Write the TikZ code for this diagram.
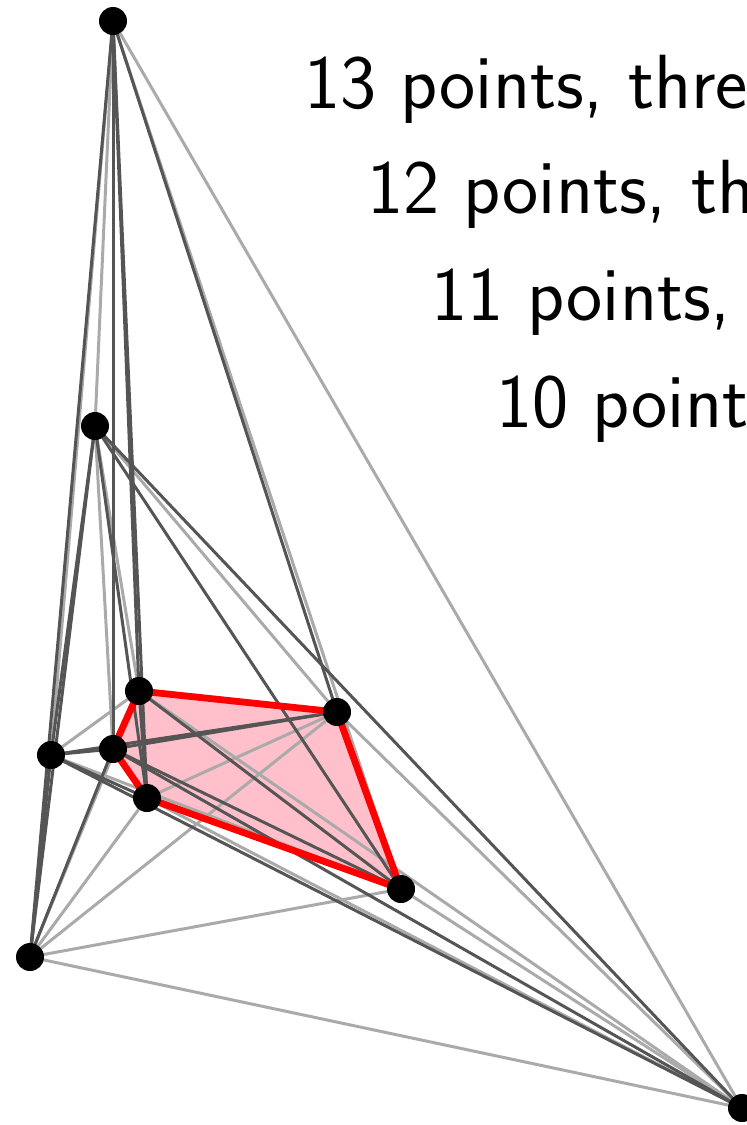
\documentclass[tikz,border=0pt]{standalone}
\begin{document}
\begin{tikzpicture}[x=0.5pt,y=-0.5pt,
  dot/.style={circle,fill=black,inner sep=0pt,minimum size=14pt},
  lightedge/.style={draw=lightgr,line width=1.5pt},
  darkedge/.style={draw=darkgr,line width=1.5pt},
  hulledge/.style={draw=red,line width=3.4pt,line join=round},
  caption/.style={anchor=base west,inner sep=0pt,font=\fontsize{38.4}{46}\selectfont\sffamily}]
\definecolor{lightgr}{RGB}{170,170,170}
\definecolor{darkgr}{RGB}{85,85,85}
\definecolor{pinkfill}{RGB}{255,192,203}
\useasboundingbox (0,0) rectangle (747,1125);
% points
\coordinate (A) at (113,21);
\coordinate (B) at (95,426);
\coordinate (C) at (139,691);
\coordinate (D) at (337,712);
\coordinate (E) at (51,755);
\coordinate (F) at (113,749);
\coordinate (G) at (147,798);
\coordinate (H) at (401,889);
\coordinate (I) at (30,957);
\coordinate (J) at (742,1108);
% pentagon fill
\fill[pinkfill] (C) -- (D) -- (H) -- (G) -- (F) -- cycle;
% light edges
\foreach \u/\v in {A/B,A/H,A/J,A/E,B/C,B/D,B/F,C/E,C/J,C/I,D/G,D/I,D/J,E/H,G/I,G/J,H/I,H/J,I/J}
  \draw[lightedge] (\u) -- (\v);
% dark edges
\foreach \u/\v in {A/C,A/D,A/F,A/G,A/I,B/E,B/G,B/H,B/I,B/J,C/G,C/H,D/E,D/F,E/F,E/G,E/I,E/J,F/H,F/I,F/J}
  \draw[darkedge] (\u) -- (\v);
% red pentagon
\draw[hulledge] (C) -- (D) -- (H) -- (G) -- (F) -- cycle;
% dots
\foreach \p in {A,B,C,D,E,F,G,H,I,J}
  \node[dot] (n\p) at (\p) {};
% captions
\node[caption] (t1) at (304,108) {13 points, thre};
\node[caption] (t2) at (367,213) {12 points, th};
\node[caption] (t3) at (431,320) {11 points,};
\node[caption] (t4) at (496,427) {10 point};
\end{tikzpicture}
\end{document}
